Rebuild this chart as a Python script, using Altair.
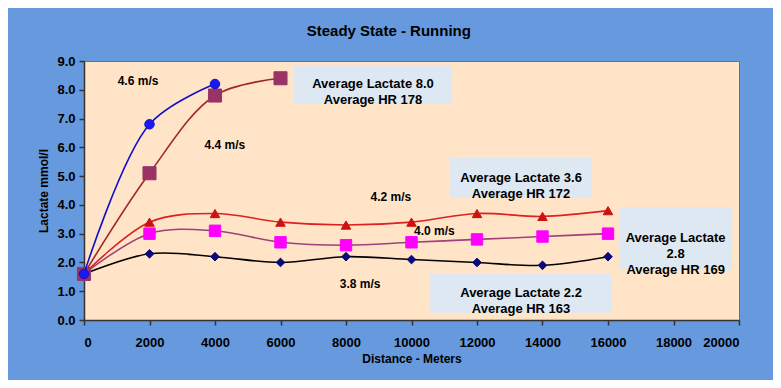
import altair as alt
import pandas as pd

# ---- data ----
distance = [0, 2000, 4000, 6000, 8000, 10000, 12000, 14000, 16000]
lac_46 = [1.6, 6.8, 8.2]
lac_44 = [1.6, 5.1, 7.8, 8.4]
lac_42 = [1.6, 3.4, 3.7, 3.4, 3.3, 3.4, 3.7, 3.6, 3.8]
lac_40 = [1.6, 3.0, 3.1, 2.7, 2.6, 2.7, 2.8, 2.9, 3.0]
lac_38 = [1.6, 2.3, 2.2, 2.0, 2.2, 2.1, 2.0, 1.9, 2.2]

series_names = ["3.8 m/s", "4.0 m/s", "4.2 m/s", "4.4 m/s", "4.6 m/s"]
series_values = [lac_38, lac_40, lac_42, lac_44, lac_46]
line_colors = ["#000000", "#A0407A", "#DD2020", "#A02828", "#1010CC"]
marker_colors = ["#0A0A78", "#FF00FF", "#CC1111", "#993366", "#1A1AF0"]
marker_shapes = ["diamond", "square", "triangle-up", "square", "circle"]
marker_sizes = [75, 130, 90, 170, 90]

x_ticks = [0, 2000, 4000, 6000, 8000, 10000, 12000, 14000, 16000, 18000, 20000]
y_ticks = [0, 1, 2, 3, 4, 5, 6, 7, 8, 9]

# speed labels (data coordinates)
speed_text = ["4.6 m/s", "4.4 m/s", "4.2 m/s", "4.0 m/s", "3.8 m/s"]
speed_x = [1650, 4300, 9370, 10700, 8430]
speed_y = [8.3, 6.08, 4.28, 3.1, 1.26]

# summary boxes (data coordinates)
box_text = ["Average Lactate 8.0\nAverage HR 178",
            "Average Lactate 3.6\nAverage HR 172",
            "Average Lactate\n2.8\nAverage HR 169",
            "Average Lactate 2.2\nAverage HR 163"]
box_x1 = [6410, 11180, 16340, 10570]
box_x2 = [11240, 15510, 19790, 16120]
box_y1 = [8.86, 5.63, 3.93, 1.60]
box_y2 = [7.51, 4.24, 1.74, 0.25]

FONT = "Liberation Sans"

xscale = alt.Scale(domain=[0, 20000], nice=False)
yscale = alt.Scale(domain=[0, 9], nice=False)
xaxis = alt.Axis(title="Distance - Meters", values=x_ticks, format="d", grid=False,
                 tickSize=5, labelPadding=11, titlePadding=4, labelOverlap=False)
yaxis = alt.Axis(title="Lactate mmol/l", values=y_ticks, format=".1f", grid=False,
                 tickSize=5, labelPadding=4, titlePadding=6, labelOverlap=False)


def X(f):
    return alt.X(f, scale=xscale, axis=xaxis)


def Y(f):
    return alt.Y(f, scale=yscale, axis=yaxis)


layers = []

# boxes
bdf = pd.DataFrame({"x1": box_x1, "x2": box_x2, "y1": box_y1, "y2": box_y2,
                    "t": box_text,
                    "xm": [(a + b) / 2 for a, b in zip(box_x1, box_x2)],
                    "ym": [(a + b) / 2 for a, b in zip(box_y1, box_y2)]})
layers.append(alt.Chart(bdf).mark_rect(color="#DCE8F6", opacity=0.95).encode(
    x=X("x1:Q"), x2="x2", y=Y("y1:Q"), y2="y2"))
layers.append(alt.Chart(bdf).mark_text(font=FONT, fontWeight="bold", fontSize=13,
                                       lineBreak="\n", lineHeight=16, color="#000000",
                                       align="center", baseline="middle").encode(
    x=X("xm:Q"), y=Y("ym:Q"), text="t:N"))

for name, vals, lc, mc, shp, sz in zip(series_names, series_values, line_colors,
                                        marker_colors, marker_shapes, marker_sizes):
    df = pd.DataFrame({"d": distance[:len(vals)], "v": vals, "s": name})
    base = alt.Chart(df).encode(x=X("d:Q"), y=Y("v:Q"))
    layers.append(base.mark_line(color=lc, strokeWidth=1.6, interpolate="catmull-rom"))
    layers.append(base.mark_point(shape=shp, size=sz, filled=True, fill=mc,
                                  stroke=lc if name == "4.6 m/s" else mc,
                                  strokeWidth=1, opacity=1))

sdf = pd.DataFrame({"x": speed_x, "y": speed_y, "t": speed_text})
layers.append(alt.Chart(sdf).mark_text(font=FONT, fontWeight="bold", fontSize=12,
                                       color="#000000").encode(
    x=X("x:Q"), y=Y("y:Q"), text="t:N"))

chart = alt.layer(*layers).properties(
    width=655, height=259,
    autosize=alt.AutoSizeParams(type="none"),
    padding={"left": 76, "top": 53, "right": 34, "bottom": 60},
    background="#6699DD",
    title=alt.TitleParams("Steady State - Running", font=FONT, fontSize=15,
                          fontWeight="bold", color="#000000", anchor="middle",
                          frame="bounds", offset=16),
).configure_view(fill="#FFE4C8", stroke="#707070", strokeWidth=1).configure_axis(
    labelFont=FONT, labelFontSize=13, labelFontWeight="bold", labelColor="#000000",
    titleFont=FONT, titleFontSize=12, titleFontWeight="bold", titleColor="#000000",
    domainColor="#333333", tickColor="#333333", domainWidth=1.5, tickWidth=1.5,
)

chart.save("out.html", embed_options={"renderer": "svg", "actions": False})
